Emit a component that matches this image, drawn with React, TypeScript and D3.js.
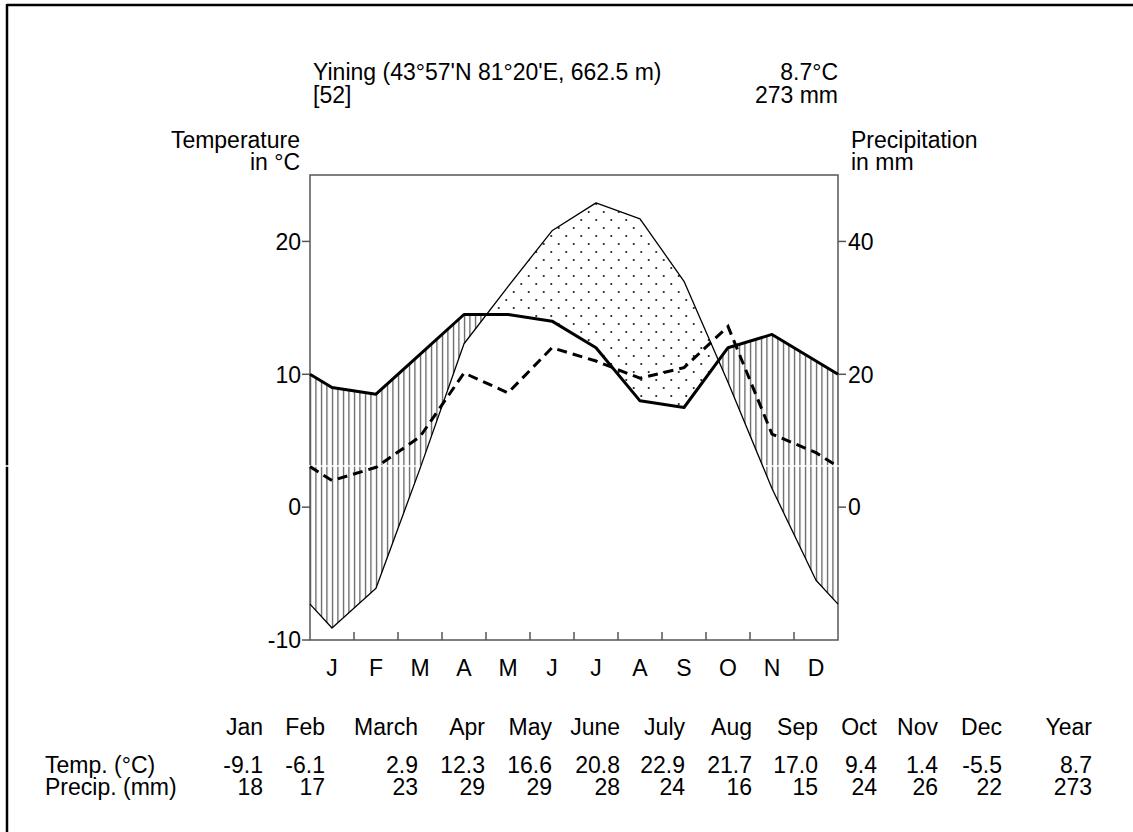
import React from 'react';
import * as d3 from 'd3';

// ---------- data ----------
const monthLetters = ['J', 'F', 'M', 'A', 'M', 'J', 'J', 'A', 'S', 'O', 'N', 'D'];
const monthNames = ['Jan', 'Feb', 'March', 'Apr', 'May', 'June', 'July', 'Aug', 'Sep', 'Oct', 'Nov', 'Dec'];
const temperature = [-9.1, -6.1, 2.9, 12.3, 16.6, 20.8, 22.9, 21.7, 17.0, 9.4, 1.4, -5.5];
const precipitation = [18, 17, 23, 29, 29, 28, 24, 16, 15, 24, 26, 22];
// dashed curve (in °C on the temperature axis)
const dashedCurve = [2.0, 3.0, 5.3, 10.1, 8.6, 12.0, 11.0, 9.7, 10.5, 13.6, 5.5, 4.1];
const tempTicks = [-10, 0, 10, 20];
const precipTicks = [0, 20, 40];
const tempLabels = ['-9.1', '-6.1', '2.9', '12.3', '16.6', '20.8', '22.9', '21.7', '17.0', '9.4', '1.4', '-5.5'];
const precipLabels = ['18', '17', '23', '29', '29', '28', '24', '16', '15', '24', '26', '22'];
const yearTemp = '8.7';
const yearPrecip = '273';
const stationTitle = "Yining (43°57'N 81°20'E, 662.5 m)";
const stationNote = '[52]';

// ---------- layout ----------
const W = 1133;
const H = 832;
const plot = { left: 310, right: 838, top: 175, bottom: 640 };
const FONT = "'Liberation Sans', Arial, Helvetica, sans-serif";
const FS = 23;
const colRight = [263, 325, 418, 485, 552, 620, 685, 752, 818, 877, 938, 1002];
const yearRight = 1092;

const x = d3.scaleLinear().domain([0, 12]).range([plot.left, plot.right]);
const yT = d3.scaleLinear().domain([-10, 25]).range([plot.bottom, plot.top]);
const yP = (p: number) => yT(p / 2);

function wrapped(values: number[]): [number, number][] {
  const edge = (values[0] + values[11]) / 2;
  const pts: [number, number][] = [[0, edge]];
  values.forEach((v, i) => pts.push([i + 0.5, v]));
  pts.push([12, edge]);
  return pts;
}

const tempPts = wrapped(temperature);
const precPts = wrapped(precipitation.map((p) => p / 2));
const dashPts = wrapped(dashedCurve);

const lineGen = d3
  .line<[number, number]>()
  .x((d) => x(d[0]))
  .y((d) => yT(d[1]));

const areaBelow = d3
  .area<[number, number]>()
  .x((d) => x(d[0]))
  .y0(plot.bottom)
  .y1((d) => yT(d[1]));
const areaAbove = d3
  .area<[number, number]>()
  .x((d) => x(d[0]))
  .y0(plot.top)
  .y1((d) => yT(d[1]));

export default function App() {
  const boundaries = d3.range(1, 12);
  return (
    <svg
      width={W}
      height={H}
      style={{ position: 'absolute', left: 0, top: 0, background: '#fff' }}
      fontFamily={FONT}
      fontSize={FS}
    >
      <defs>
        <pattern id="vhatch" patternUnits="userSpaceOnUse" width={5.5} height={10}>
          <line x1={2.5} y1={0} x2={2.5} y2={10} stroke="#333" strokeWidth={1} />
        </pattern>
        <pattern id="dots" patternUnits="userSpaceOnUse" width={15} height={16}>
          <circle cx={3.75} cy={4} r={1.1} fill="#222" />
          <circle cx={11.25} cy={12} r={1.1} fill="#222" />
        </pattern>
        <clipPath id="belowP">
          <path d={areaBelow(precPts) || ''} />
        </clipPath>
        <clipPath id="aboveP">
          <path d={areaAbove(precPts) || ''} />
        </clipPath>
        <clipPath id="belowT">
          <path d={areaBelow(tempPts) || ''} />
        </clipPath>
        <clipPath id="aboveT">
          <path d={areaAbove(tempPts) || ''} />
        </clipPath>
      </defs>

      <rect x={0} y={0} width={W} height={H} fill="#fff" />
      {/* page frame (top & left) */}
      <line x1={7} y1={5} x2={W} y2={5} stroke="#000" strokeWidth={2.5} />
      <line x1={7} y1={4} x2={7} y2={H} stroke="#000" strokeWidth={2.5} />

      {/* header */}
      <text x={313} y={80}>{stationTitle}</text>
      <text x={313} y={103}>{stationNote}</text>
      <text x={plot.right} y={80} textAnchor="end">{`${yearTemp}°C`}</text>
      <text x={plot.right} y={103} textAnchor="end">{`${yearPrecip} mm`}</text>
      <text x={300} y={148} textAnchor="end">Temperature</text>
      <text x={300} y={170} textAnchor="end">in °C</text>
      <text x={851} y={148}>Precipitation</text>
      <text x={851} y={170}>in mm</text>

      {/* humid: vertical hatching */}
      <g clipPath="url(#aboveT)">
        <rect
          x={plot.left}
          y={plot.top}
          width={plot.right - plot.left}
          height={plot.bottom - plot.top}
          fill="url(#vhatch)"
          clipPath="url(#belowP)"
        />
      </g>
      {/* arid: dots */}
      <g clipPath="url(#aboveP)">
        <rect
          x={plot.left}
          y={plot.top}
          width={plot.right - plot.left}
          height={plot.bottom - plot.top}
          fill="url(#dots)"
          clipPath="url(#belowT)"
        />
      </g>

      {/* plot frame */}
      <rect
        x={plot.left}
        y={plot.top}
        width={plot.right - plot.left}
        height={plot.bottom - plot.top}
        fill="none"
        stroke="#555"
        strokeWidth={1.5}
      />
      {/* left axis */}
      {tempTicks.map((t) => (
        <g key={'lt' + t}>
          <line x1={plot.left - 8} x2={plot.left} y1={yT(t)} y2={yT(t)} stroke="#555" strokeWidth={1.5} />
          <text x={plot.left - 9} y={yT(t)} dy="0.36em" textAnchor="end">
            {t}
          </text>
        </g>
      ))}
      {/* right axis */}
      {precipTicks.map((p) => (
        <g key={'rt' + p}>
          <line x1={plot.right} x2={plot.right + 8} y1={yP(p)} y2={yP(p)} stroke="#555" strokeWidth={1.5} />
          <text x={plot.right + 10} y={yP(p)} dy="0.36em">
            {p}
          </text>
        </g>
      ))}
      {/* month ticks and labels */}
      {boundaries.map((b) => (
        <line key={'mb' + b} x1={x(b)} x2={x(b)} y1={plot.bottom} y2={plot.bottom - 8} stroke="#555" strokeWidth={1.5} />
      ))}
      {monthLetters.map((m, i) => (
        <text key={'ml' + i} x={x(i + 0.5)} y={676} textAnchor="middle">
          {m}
        </text>
      ))}

      {/* scan artifact line */}
      <line x1={0} x2={W} y1={466} y2={466} stroke="#fff" strokeWidth={1.5} />

      {/* curves */}
      <path d={lineGen(tempPts) || ''} fill="none" stroke="#000" strokeWidth={1.3} strokeLinejoin="round" />
      <path d={lineGen(dashPts) || ''} fill="none" stroke="#000" strokeWidth={3} strokeDasharray="10,6" />
      <path d={lineGen(precPts) || ''} fill="none" stroke="#000" strokeWidth={3} strokeLinejoin="round" />

      {/* table */}
      {monthNames.map((m, i) => (
        <g key={'tb' + i}>
          <text x={colRight[i]} y={735} textAnchor="end">{m}</text>
          <text x={colRight[i]} y={773} textAnchor="end">{tempLabels[i]}</text>
          <text x={colRight[i]} y={795} textAnchor="end">{precipLabels[i]}</text>
        </g>
      ))}
      <text x={yearRight} y={735} textAnchor="end">Year</text>
      <text x={yearRight} y={773} textAnchor="end">{yearTemp}</text>
      <text x={yearRight} y={795} textAnchor="end">{yearPrecip}</text>
      <text x={45} y={773}>Temp. (°C)</text>
      <text x={45} y={795}>Precip. (mm)</text>
    </svg>
  );
}
